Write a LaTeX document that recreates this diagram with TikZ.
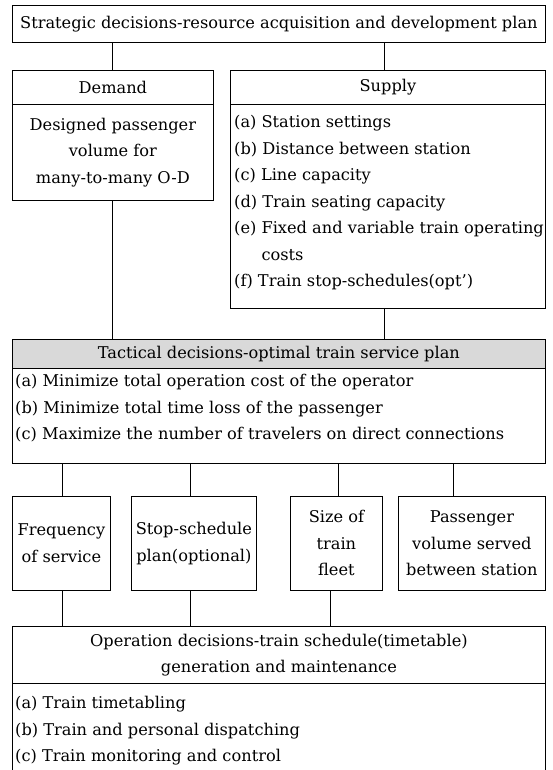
\documentclass[tikz,border=0pt]{standalone}
\usepackage{fontspec}
\setmainfont{DejaVu Serif}
\newcommand\fs{\fontsize{16.2}{26.5}\selectfont}
\begin{document}
\begin{tikzpicture}[x=1pt,y=-1pt,
  box/.style={draw, line width=0.8pt, inner sep=0pt, anchor=north west, align=center, font=\fs},
  listbox/.style={anchor=north west, inner sep=0pt, align=left, font=\fs},
  conn/.style={line width=0.8pt}]
\useasboundingbox (0,0) rectangle (553,770);
% top
\node[box, minimum width=533pt, minimum height=37pt] (top) at (12,5) {Strategic decisions-resource acquisition and development plan};
% demand
\node[box, minimum width=201pt, minimum height=34pt] (demH) at (12,70) {Demand};
\node[box, minimum width=201pt, minimum height=96pt] (demB) at (12,104) {Designed passenger\\volume for\\many-to-many O-D};
% supply
\node[box, minimum width=315pt, minimum height=34pt] (supH) at (230,70) {Supply};
\node[box, minimum width=315pt, minimum height=204pt] (supB) at (230,104) {};
\node[listbox] (supL) at (234,115) {(a) Station settings\\(b) Distance between station\\(c) Line capacity\\(d) Train seating capacity\\(e) Fixed and variable train operating\\\phantom{(e)} costs\\(f) Train stop-schedules(opt')};
% tactical
\node[box, fill=gray!30, minimum width=533pt, minimum height=29pt] (tacH) at (12,339) {Tactical decisions-optimal train service plan};
\node[box, minimum width=533pt, minimum height=95pt] (tacB) at (12,368) {};
\node[listbox] (tacL) at (15,374) {(a) Minimize total operation cost of the operator\\(b) Minimize total time loss of the passenger\\(c) Maximize the number of travelers on direct connections};
% four boxes
\node[box, minimum width=98pt, minimum height=94pt] (b1) at (12,496) {Frequency\\of service};
\node[box, minimum width=125pt, minimum height=94pt] (b2) at (131,496) {Stop-schedule\\plan(optional)};
\node[box, minimum width=92pt, minimum height=94pt] (b3) at (290,496) {Size of\\train\\fleet};
\node[box, minimum width=147pt, minimum height=94pt] (b4) at (398,496) {Passenger\\volume served\\between station};
% bottom
\node[box, minimum width=533pt, minimum height=57pt] (opH) at (12,626) {Operation decisions-train schedule(timetable)\\generation and maintenance};
\node[listbox] (opL) at (15,696) {(a) Train timetabling\\(b) Train and personal dispatching\\(c) Train monitoring and control};
\draw[conn] (opH.south west) -- (opH.south west |- 0,770);
\draw[conn] (opH.south east) -- (opH.south east |- 0,770);
% connector positions
\coordinate (xd) at (112,0);
\coordinate (xs) at (384,0);
\coordinate (x1) at (62,0);
\coordinate (x2) at (190,0);
\coordinate (x3) at (338,0);
\coordinate (x4) at (453,0);
\coordinate (x5) at (330,0);
\draw[conn] (top.south -| xd) -- (demH.north -| xd);
\draw[conn] (top.south -| xs) -- (supH.north -| xs);
\draw[conn] (demB.south -| xd) -- (tacH.north -| xd);
\draw[conn] (supB.south -| xs) -- (tacH.north -| xs);
\draw[conn] (tacB.south -| x1) -- (b1.north -| x1);
\draw[conn] (tacB.south -| x2) -- (b2.north -| x2);
\draw[conn] (tacB.south -| x3) -- (b3.north -| x3);
\draw[conn] (tacB.south -| x4) -- (b4.north -| x4);
\draw[conn] (b1.south -| x1) -- (opH.north -| x1);
\draw[conn] (b2.south -| x2) -- (opH.north -| x2);
\draw[conn] (b3.south -| x5) -- (opH.north -| x5);
\end{tikzpicture}
\end{document}
